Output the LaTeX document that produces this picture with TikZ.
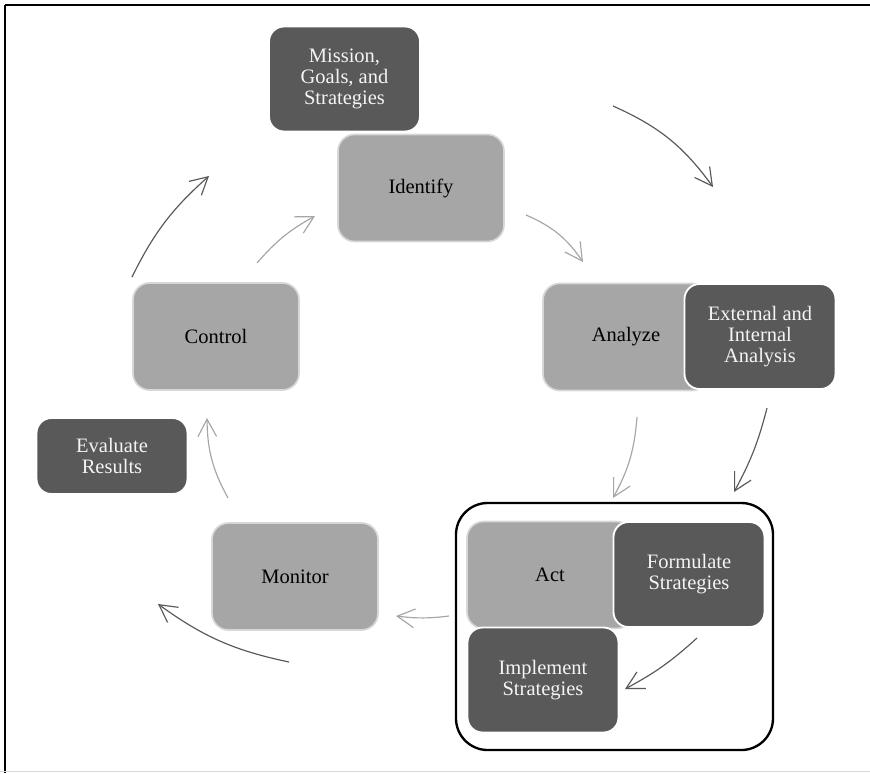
\documentclass[tikz,border=0pt]{standalone}
\usepackage{fontspec}
\setmainfont{Liberation Serif}
\usetikzlibrary{arrows.meta}
\definecolor{darkfill}{HTML}{595959}
\definecolor{lightfill}{HTML}{A6A6A6}
\definecolor{lightedge}{HTML}{D6D6DC}
\definecolor{darktext}{HTML}{F4F4F4}
\begin{document}
\begin{tikzpicture}[x=0.03cm,y=-0.03cm,
  lightbox/.style={draw=lightedge,line width=1.4pt,fill=lightfill,rounded corners=0.5cm,
    minimum width=4.98cm,minimum height=3.21cm,align=center,text=black,
    font=\rmfamily\fontsize{17.5}{18}\selectfont},
  darkbox/.style={draw=white,line width=1.6pt,fill=darkfill,rounded corners=0.45cm,
    minimum width=4.53cm,minimum height=3.15cm,align=center,text=darktext,
    font=\rmfamily\fontsize{17.5}{18}\selectfont},
  tipstyle/.style={-{Straight Barb[length=5.2mm,width=5.6mm,line width=1pt]}},
  darrow/.style={tipstyle,draw=darkfill,line width=1pt},
  larrow/.style={tipstyle,draw=lightfill,line width=1pt}]
\useasboundingbox (0,0) rectangle (870,773);

% page frame
\draw[black,line width=1.5pt] (5,5) -- (870,5);
\draw[black,line width=1.5pt] (5,5) -- (5,773);
\draw[gray!30,line width=0.8pt] (0,771.5) -- (870,771.5);

% group frame round the acting steps
\node[draw=black,line width=2pt,rounded corners=0.95cm,minimum width=9.51cm,minimum height=7.41cm]
  (actgroup) at (614.5,626.5) {};

% cycle steps
\node[lightbox] (identify) at (421,188) {Identify};
\node[lightbox] (analyze) at (626,337) {Analyze};
\node[lightbox] (act) at (550,575) {Act};
\node[lightbox] (monitor) at (295,576.5) {Monitor};
\node[lightbox] (control) at (216,336.5) {Control};

% activities attached to the steps
\node[darkbox] (mission) at (344.5,79) {Mission,\\Goals, and\\Strategies};
\node[darkbox] (external) at (760,336.5) {External and\\Internal\\Analysis};
\node[darkbox] (formulate) at (689,574.5) {Formulate\\Strategies};
\node[darkbox] (implement) at (543,680) {Implement\\Strategies};
\node[darkbox,minimum height=2.28cm] (evaluate) at (112,456) {Evaluate\\Results};

% arrow end points
\coordinate (idS) at (526,215);   \coordinate (idE) at (583,262);
\coordinate (anS) at (637,417);   \coordinate (anE) at (613,498);
\coordinate (acS) at (449,616);   \coordinate (acE) at (396,616);
\coordinate (moS) at (228,498);   \coordinate (moE) at (207,418);
\coordinate (coS) at (257,263);   \coordinate (coE) at (315,216);
\coordinate (miS) at (613,106);   \coordinate (miE) at (713,187);
\coordinate (exS) at (767,408);   \coordinate (exE) at (734,492);
\coordinate (foS) at (697,638);   \coordinate (foE) at (625,689);
\coordinate (imS) at (289,662);   \coordinate (imE) at (158,604);
\coordinate (evS) at (132,277);   \coordinate (evE) at (209,176);

% inner cycle
\draw[larrow] (idS) to[bend left=16] (idE);
\draw[larrow] (anS) to[bend left=12] (anE);
\draw[larrow] (acS) to[bend left=7] (acE);
\draw[larrow] (moS) to[bend left=14] (moE);
\draw[larrow] (coS) to[bend left=10] (coE);

% outer cycle
\draw[darrow] (miS) to[bend left=15] (miE);
\draw[darrow] (exS) to[bend left=7] (exE);
\draw[darrow] (foS) to[bend left=7] (foE);
\draw[darrow] (imS) to[bend left=12] (imE);
\draw[darrow] (evS) to[bend left=11] (evE);
\end{tikzpicture}
\end{document}
